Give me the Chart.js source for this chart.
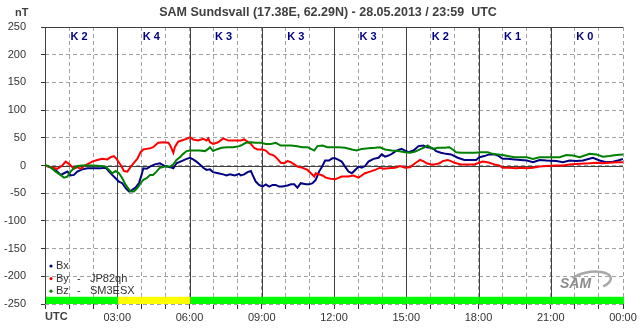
<!DOCTYPE html>
<html>
<head>
<meta charset="utf-8">
<script src="https://cdn.jsdelivr.net/npm/chart.js@4.4.1/dist/chart.umd.min.js"></script>
<style>
  html, body { margin: 0; padding: 0; background: #fff; }
  canvas { display: block; }
</style>
</head>
<body>
<canvas id="chart-sam" width="643" height="331"></canvas>
<script>
// Magnetometer data, hours UTC / nT
const bxHours = [0, 0.23, 0.51, 0.65, 0.79, 0.93, 1.06, 1.2, 1.34, 1.55, 1.76, 2.03, 2.31, 2.52, 2.66, 2.79, 2.93, 3.07, 3.21, 3.35, 3.49, 3.62, 3.76, 3.9, 4.01, 4.08, 4.22, 4.36, 4.56, 4.77, 4.98, 5.19, 5.33, 5.46, 5.67, 5.88, 6.02, 6.15, 6.29, 6.43, 6.57, 6.71, 6.85, 6.98, 7.19, 7.4, 7.54, 7.68, 7.88, 8.06, 8.13, 8.27, 8.41, 8.55, 8.62, 8.75, 8.89, 9.03, 9.17, 9.31, 9.45, 9.58, 9.72, 9.86, 10.07, 10.21, 10.35, 10.48, 10.62, 10.83, 10.97, 11.11, 11.24, 11.38, 11.52, 11.63, 11.79, 11.93, 12.05, 12.19, 12.32, 12.46, 12.6, 12.74, 12.88, 13.02, 13.15, 13.29, 13.43, 13.64, 13.85, 13.98, 14.12, 14.26, 14.4, 14.6, 14.81, 14.95, 15.09, 15.3, 15.51, 15.71, 15.85, 16.03, 16.17, 16.24, 16.44, 16.65, 16.86, 17.14, 17.41, 17.69, 17.9, 18.04, 18.24, 18.45, 18.66, 18.8, 19.0, 19.21, 19.49, 19.76, 20.01, 20.26, 20.54, 20.82, 21.23, 21.51, 21.78, 22.06, 22.34, 22.75, 23.03, 23.3, 23.58, 23.79, 24.0];
const bxValues = [0, -3, -11, -17, -14, -11, -18, -17, -11, -7, -5, -5, -5, -4, -11, -17, -23, -29, -32, -41, -47, -44, -40, -32, -17, -5, -6, -2, 2, 4, -1, -3, -5, 4, 8, 12, 14, 11, 7, 2, -4, -8, -7, -12, -14, -16, -18, -16, -18, -15, -18, -16, -12, -10, -17, -29, -35, -38, -34, -38, -35, -35, -38, -38, -36, -34, -34, -40, -32, -34, -34, -32, -26, -11, -1, 9, 9, 13, 13, 10, 7, -2, -11, -14, -8, -2, -4, -1, 7, 12, 14, 20, 16, 18, 21, 27, 30, 27, 24, 27, 35, 36, 33, 32, 29, 26, 23, 21, 20, 14, 10, 10, 10, 15, 17, 20, 20, 18, 12, 12, 11, 10, 9, 6, 10, 9, 8, 6, 9, 8, 9, 14, 9, 6, 7, 9, 12];

const byHours = [0, 0.23, 0.51, 0.72, 0.86, 0.995, 1.2, 1.34, 1.48, 1.62, 1.83, 1.96, 2.17, 2.38, 2.59, 2.72, 2.86, 2.97, 3.14, 3.28, 3.42, 3.62, 3.83, 3.97, 4.08, 4.22, 4.36, 4.49, 4.7, 4.91, 5.12, 5.19, 5.33, 5.39, 5.53, 5.67, 5.88, 6.02, 6.15, 6.36, 6.57, 6.71, 6.78, 6.85, 6.98, 7.19, 7.4, 7.61, 7.81, 7.93, 8.13, 8.27, 8.41, 8.55, 8.68, 8.82, 9.03, 9.17, 9.31, 9.51, 9.65, 9.79, 9.93, 10.07, 10.21, 10.35, 10.48, 10.69, 10.9, 11.04, 11.18, 11.24, 11.38, 11.52, 11.66, 11.86, 12.05, 12.32, 12.6, 12.81, 13.02, 13.15, 13.29, 13.5, 13.71, 13.91, 14.05, 14.26, 14.54, 14.74, 14.95, 15.16, 15.37, 15.57, 15.71, 15.85, 16.03, 16.17, 16.38, 16.51, 16.72, 16.86, 17.0, 17.28, 17.55, 17.83, 17.97, 18.17, 18.38, 18.66, 18.86, 19.0, 19.28, 19.56, 19.76, 20.01, 20.26, 20.54, 20.82, 21.23, 21.51, 21.78, 22.2, 22.61, 22.89, 23.17, 23.44, 23.72, 24.0];
const byValues = [0, -3, -6, 0, 7, 3, -6, -3, -6, -1, 4, 7, 10, 12, 11, 15, 17, 12, 1, -10, -11, 1, 12, 24, 29, 30, 31, 33, 41, 42, 41, 37, 23, 33, 43, 45, 48, 51, 47, 45, 48, 45, 49, 42, 39, 42, 49, 45, 45, 45, 45, 47, 43, 39, 32, 29, 29, 27, 21, 18, 12, 5, 4, 8, 6, 2, -2, -4, -8, -14, -20, -14, -16, -18, -22, -24, -25, -20, -20, -18, -22, -18, -14, -11, -8, -4, -6, -5, -4, -1, -4, -3, 4, 10, 8, 4, 2, 2, 4, 8, 10, 8, 5, 2, 2, 2, 4, 7, 6, 2, 0, -4, -4, -5, -4, -5, -4, -2, -1, 0, 0, 2, 3, 4, 5, 4, 5, 6, 6];

const bzHours = [0, 0.23, 0.44, 0.65, 0.79, 0.93, 1.06, 1.2, 1.34, 1.55, 1.76, 2.03, 2.31, 2.52, 2.66, 2.79, 2.93, 3.07, 3.21, 3.35, 3.55, 3.69, 3.83, 3.97, 4.08, 4.22, 4.36, 4.49, 4.63, 4.77, 4.98, 5.19, 5.33, 5.46, 5.6, 5.74, 5.88, 6.02, 6.22, 6.43, 6.64, 6.78, 6.85, 6.98, 7.12, 7.33, 7.54, 7.81, 8.06, 8.13, 8.34, 8.55, 8.75, 8.96, 9.17, 9.38, 9.58, 9.79, 10.0, 10.21, 10.41, 10.69, 10.9, 11.04, 11.18, 11.31, 11.52, 11.73, 11.93, 12.19, 12.46, 12.74, 12.95, 13.15, 13.43, 13.71, 13.91, 14.12, 14.4, 14.67, 14.95, 15.16, 15.37, 15.57, 15.78, 15.89, 16.1, 16.31, 16.58, 16.79, 16.93, 17.07, 17.28, 17.55, 17.83, 18.11, 18.38, 18.59, 18.8, 19.0, 19.21, 19.49, 19.76, 20.01, 20.26, 20.54, 20.96, 21.37, 21.65, 21.92, 22.2, 22.61, 22.89, 23.17, 23.44, 23.72, 24.0];
const bzValues = [1, -3, -11, -17, -22, -20, -11, -5, -1, 0, 0, 0, -1, -2, -8, -14, -10, -14, -23, -35, -47, -47, -41, -32, -26, -23, -17, -17, -11, -4, -2, -2, 2, 10, 15, 21, 26, 27, 27, 27, 26, 30, 33, 26, 29, 32, 33, 33, 35, 36, 41, 42, 41, 41, 39, 39, 41, 36, 36, 36, 35, 33, 33, 30, 27, 35, 36, 33, 33, 33, 32, 29, 27, 30, 31, 32, 33, 29, 27, 26, 24, 23, 25, 29, 33, 36, 30, 32, 32, 33, 29, 24, 23, 23, 23, 24, 24, 21, 20, 19, 17, 15, 15, 15, 12, 15, 15, 15, 19, 18, 15, 21, 20, 16, 17, 19, 20];

// K index per 3 hour block
const kIndex = [2, 4, 3, 3, 3, 2, 1, 0];
const xTickLabels = ['UTC', '03:00', '06:00', '09:00', '12:00', '15:00', '18:00', '21:00', '00:00'];
const legendLabels = [['Bx', ''], ['By', 'JP82qh'], ['Bz', 'SM3ESX']];
const seriesColors = ['#000080', '#ff0000', '#008000'];

const FONT = '"Liberation Sans", Arial, sans-serif';
const toPoints = (hs, vs) => hs.map((h, i) => ({ x: h, y: vs[i] }));

const samPlugin = {
    id: 'samPlugin',
    beforeDatasetsDraw(chart) {
        const { ctx, chartArea: a, scales: { x, y } } = chart;
        ctx.save();
        ctx.strokeStyle = '#404040';
        ctx.lineWidth = 1;
        ctx.beginPath();
        for (let h = 0; h <= 21; h += 3) {
            const px = Math.round(x.getPixelForValue(h)) + 0.5;
            ctx.moveTo(px, a.top);
            ctx.lineTo(px, a.bottom);
        }
        const y0 = Math.round(y.getPixelForValue(0)) + 0.5;
        ctx.moveTo(a.left, y0);
        ctx.lineTo(a.right, y0);
        const yt = Math.round(a.top) + 0.5;
        ctx.moveTo(a.left, yt);
        ctx.lineTo(a.right, yt);
        ctx.stroke();

        // K labels
        ctx.fillStyle = '#000080';
        ctx.font = 'bold 11px ' + FONT;
        ctx.textAlign = 'center';
        ctx.textBaseline = 'middle';
        kIndex.forEach((k, i) => {
            ctx.fillText('K ' + k, x.getPixelForValue(i * 3 + 1.5) - 2, a.top + 10);
        });
        ctx.restore();
    },
    afterDatasetsDraw(chart) {
        const { ctx, chartArea: a, scales: { x, y } } = chart;
        ctx.save();
        // K index bar
        const yb0 = y.getPixelForValue(-250);
        const yb1 = y.getPixelForValue(-237);
        kIndex.forEach((k, i) => {
            const x0 = x.getPixelForValue(i * 3);
            const x1 = x.getPixelForValue(i * 3 + 3);
            ctx.fillStyle = k >= 4 ? '#ffff00' : '#00ff00';
            ctx.fillRect(x0 + 1, yb1, x1 - x0, yb0 - yb1);
        });

        // legend
        ctx.font = '11px ' + FONT;
        ctx.textBaseline = 'middle';
        ctx.textAlign = 'left';
        legendLabels.forEach((l, i) => {
            const ly = 266 + i * 12.6;
            ctx.fillStyle = seriesColors[i];
            ctx.beginPath();
            ctx.arc(51, ly, 1.6, 0, Math.PI * 2);
            ctx.fill();
            ctx.fillStyle = '#333';
            ctx.fillText(l[0], 56, ly);
            if (l[1]) {
                ctx.fillText('-', 77, ly);
                ctx.fillText(l[1], 90, ly);
            }
        });

        // SAM logo
        ctx.strokeStyle = '#a8a8a8';
        ctx.lineWidth = 2.5;
        ctx.beginPath();
        ctx.ellipse(590, 281, 21, 9, -0.15, Math.PI * 1.2, Math.PI * 2.3);
        ctx.stroke();
        ctx.fillStyle = '#8c8c8c';
        ctx.font = 'italic bold 14px ' + FONT;
        ctx.fillText('SAM', 560, 284);
        ctx.restore();
    },
    afterDraw(chart) {
        const { ctx, chartArea: a } = chart;
        ctx.save();
        ctx.fillStyle = '#404040';
        ctx.font = 'bold 12.5px ' + FONT;
        ctx.textBaseline = 'middle';
        ctx.textAlign = 'center';
        ctx.fillText('SAM Sundsvall (17.38E, 62.29N) - 28.05.2013 / 23:59  UTC', 328, 13);
        ctx.textAlign = 'left';
        ctx.font = 'bold 11px ' + FONT;
        ctx.fillText('nT', 15, 13);
        ctx.fillText('UTC', a.left, 317);
        ctx.restore();
    }
};

new Chart(document.getElementById('chart-sam'), {
    type: 'line',
    data: {
        datasets: [
            { label: 'Bx', data: toPoints(bxHours, bxValues), borderColor: seriesColors[0], order: 3 },
            { label: 'By', data: toPoints(byHours, byValues), borderColor: seriesColors[1], order: 2 },
            { label: 'Bz', data: toPoints(bzHours, bzValues), borderColor: seriesColors[2], order: 1 }
        ]
    },
    options: {
        responsive: false,
        animation: false,
        devicePixelRatio: 1,
        layout: { padding: { top: 27, right: 20, left: 0, bottom: 0 } },
        elements: {
            line: { borderWidth: 2, tension: 0, fill: false },
            point: { radius: 0, hoverRadius: 0 }
        },
        plugins: {
            legend: { display: false },
            tooltip: { enabled: false },
            title: { display: false }
        },
        scales: {
            x: {
                type: 'linear',
                min: 0,
                max: 24,
                afterFit: s => { s.height = 27; },
                ticks: {
                    stepSize: 1,
                    autoSkip: false,
                    maxRotation: 0,
                    minRotation: 0,
                    padding: 2,
                    color: '#333',
                    font: { family: FONT, size: 11 },
                    callback: v => (v % 3 === 0 && v > 0) ? xTickLabels[v / 3] : ''
                },
                grid: { color: '#a0a0a0', tickColor: '#333', tickLength: 5, tickBorderDash: [] },
                border: { display: false, dash: [4, 3] }
            },
            y: {
                min: -250,
                max: 250,
                afterFit: s => { s.width = 45; },
                ticks: {
                    stepSize: 50,
                    padding: 15,
                    color: '#333',
                    font: { family: FONT, size: 11 }
                },
                grid: { color: '#a0a0a0', tickColor: '#333', tickLength: 4, tickBorderDash: [] },
                border: { display: false, dash: [4, 3] }
            }
        }
    },
    plugins: [samPlugin]
});
</script>
</body>
</html>
